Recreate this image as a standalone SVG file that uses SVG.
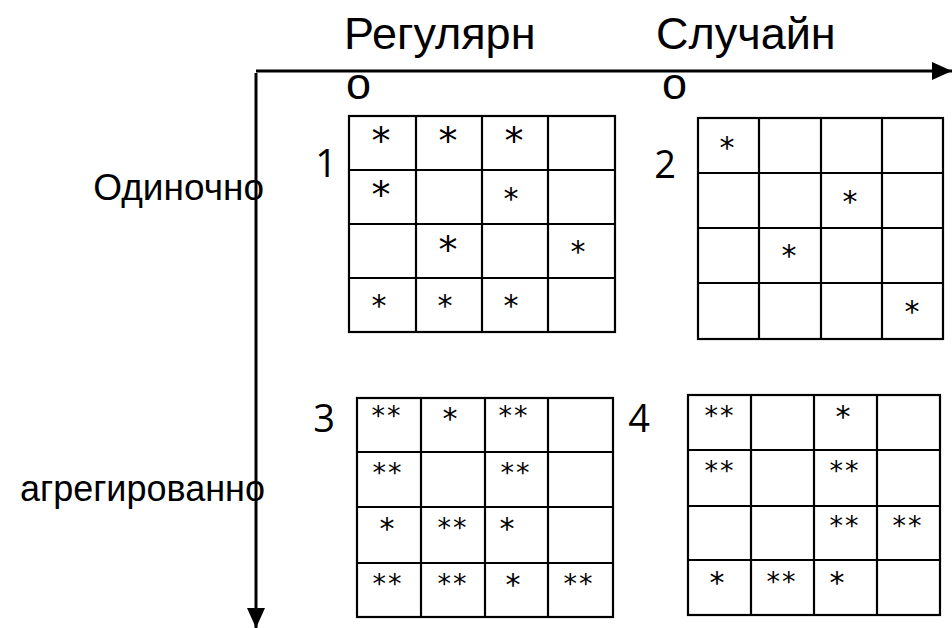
<svg xmlns="http://www.w3.org/2000/svg" width="952" height="628" viewBox="0 0 952 628">
<defs>
<marker id="ah" viewBox="0 0 20 18" refX="20" refY="9" markerWidth="20" markerHeight="18" markerUnits="userSpaceOnUse" orient="auto">
<path d="M0,0 L20,9 L0,18 Z" fill="#000"/>
</marker>
<style>
.ax{stroke:#000;stroke-width:3;fill:none}
.cell rect{fill:#fff;stroke:#000;stroke-width:2.2}
.cell line{stroke:#000;stroke-width:2.2}
.lbl{font-family:"Liberation Sans",Arial,sans-serif;fill:#000}
.num{font-family:"Open Sans","Liberation Sans",sans-serif;font-size:38px;fill:#000;text-anchor:middle}
.a{font-family:"DejaVu Sans","Liberation Sans",sans-serif;fill:#000;text-anchor:middle}
.b{font-size:38px}
.s{font-size:30px}
.d{font-size:27px;letter-spacing:2px}
</style>
</defs>
<rect width="952" height="628" fill="#fff"/>
<g id="connectors">
<line class="ax" x1="256" y1="71" x2="952" y2="71" marker-end="url(#ah)"/>
<line class="ax" x1="256" y1="73" x2="256" y2="628" marker-end="url(#ah)"/>
</g>
<g id="axis-labels">
<text class="lbl" x="344" y="49" font-size="45">Регулярн</text>
<text class="lbl" x="346" y="99" font-size="45">о</text>
<text class="lbl" x="656" y="49" font-size="45">Случайн</text>
<text class="lbl" x="662" y="99" font-size="45">о</text>
<text class="lbl" x="264" y="200" font-size="37" text-anchor="end">Одиночно</text>
<text class="lbl" x="265" y="501" font-size="36" text-anchor="end">агрегированно</text>
</g>
<g id="grid1" class="cell">
<rect x="349" y="116" width="266" height="216"/>
<line x1="416" y1="116" x2="416" y2="332"/><line x1="482" y1="116" x2="482" y2="332"/><line x1="548" y1="116" x2="548" y2="332"/>
<line x1="349" y1="170" x2="615" y2="170"/><line x1="349" y1="224" x2="615" y2="224"/><line x1="349" y1="278" x2="615" y2="278"/>
<text class="num" x="326" y="177">1</text>
<text class="a b" x="381" y="154">*</text><text class="a b" x="448" y="154">*</text><text class="a b" x="514" y="154">*</text>
<text class="a b" x="381" y="208">*</text><text class="a s" x="511" y="209">*</text>
<text class="a b" x="448" y="263">*</text><text class="a s" x="578" y="262">*</text>
<text class="a s" x="379" y="316">*</text><text class="a s" x="445" y="316">*</text><text class="a s" x="511" y="316">*</text>
</g>
<g id="grid2" class="cell">
<rect x="698" y="118" width="245" height="221"/>
<line x1="759" y1="118" x2="759" y2="339"/><line x1="821" y1="118" x2="821" y2="339"/><line x1="882" y1="118" x2="882" y2="339"/>
<line x1="698" y1="173" x2="943" y2="173"/><line x1="698" y1="228" x2="943" y2="228"/><line x1="698" y1="283" x2="943" y2="283"/>
<text class="num" x="665" y="178">2</text>
<text class="a s" x="727" y="158">*</text>
<text class="a s" x="850" y="212">*</text>
<text class="a s" x="789" y="266">*</text>
<text class="a s" x="912" y="322">*</text>
</g>
<g id="grid3" class="cell">
<rect x="357" y="398" width="256" height="219"/>
<line x1="421" y1="398" x2="421" y2="617"/><line x1="485" y1="398" x2="485" y2="617"/><line x1="548" y1="398" x2="548" y2="617"/>
<line x1="357" y1="452" x2="613" y2="452"/><line x1="357" y1="507" x2="613" y2="507"/><line x1="357" y1="563" x2="613" y2="563"/>
<text class="num" x="324" y="432">3</text>
<text class="a d" x="387" y="425">**</text><text class="a s" x="450" y="429">*</text><text class="a d" x="514" y="425">**</text>
<text class="a d" x="388" y="482">**</text><text class="a d" x="516" y="482">**</text>
<text class="a s" x="387" y="539">*</text><text class="a d" x="453" y="537">**</text><text class="a s" x="507" y="539">*</text>
<text class="a d" x="388" y="593">**</text><text class="a d" x="453" y="593">**</text><text class="a s" x="513" y="595">*</text><text class="a d" x="579" y="593">**</text>
</g>
<g id="grid4" class="cell">
<rect x="688" y="395" width="252" height="220"/>
<line x1="751" y1="395" x2="751" y2="615"/><line x1="814" y1="395" x2="814" y2="615"/><line x1="877" y1="395" x2="877" y2="615"/>
<line x1="688" y1="450" x2="940" y2="450"/><line x1="688" y1="506" x2="940" y2="506"/><line x1="688" y1="560" x2="940" y2="560"/>
<text class="num" x="639" y="432">4</text>
<text class="a d" x="720" y="425">**</text><text class="a s" x="843" y="427">*</text>
<text class="a d" x="720" y="480">**</text><text class="a d" x="845" y="480">**</text>
<text class="a d" x="845" y="535">**</text><text class="a d" x="908" y="535">**</text>
<text class="a s" x="717" y="593">*</text><text class="a d" x="782" y="591">**</text><text class="a s" x="837" y="593">*</text>
</g>
</svg>
